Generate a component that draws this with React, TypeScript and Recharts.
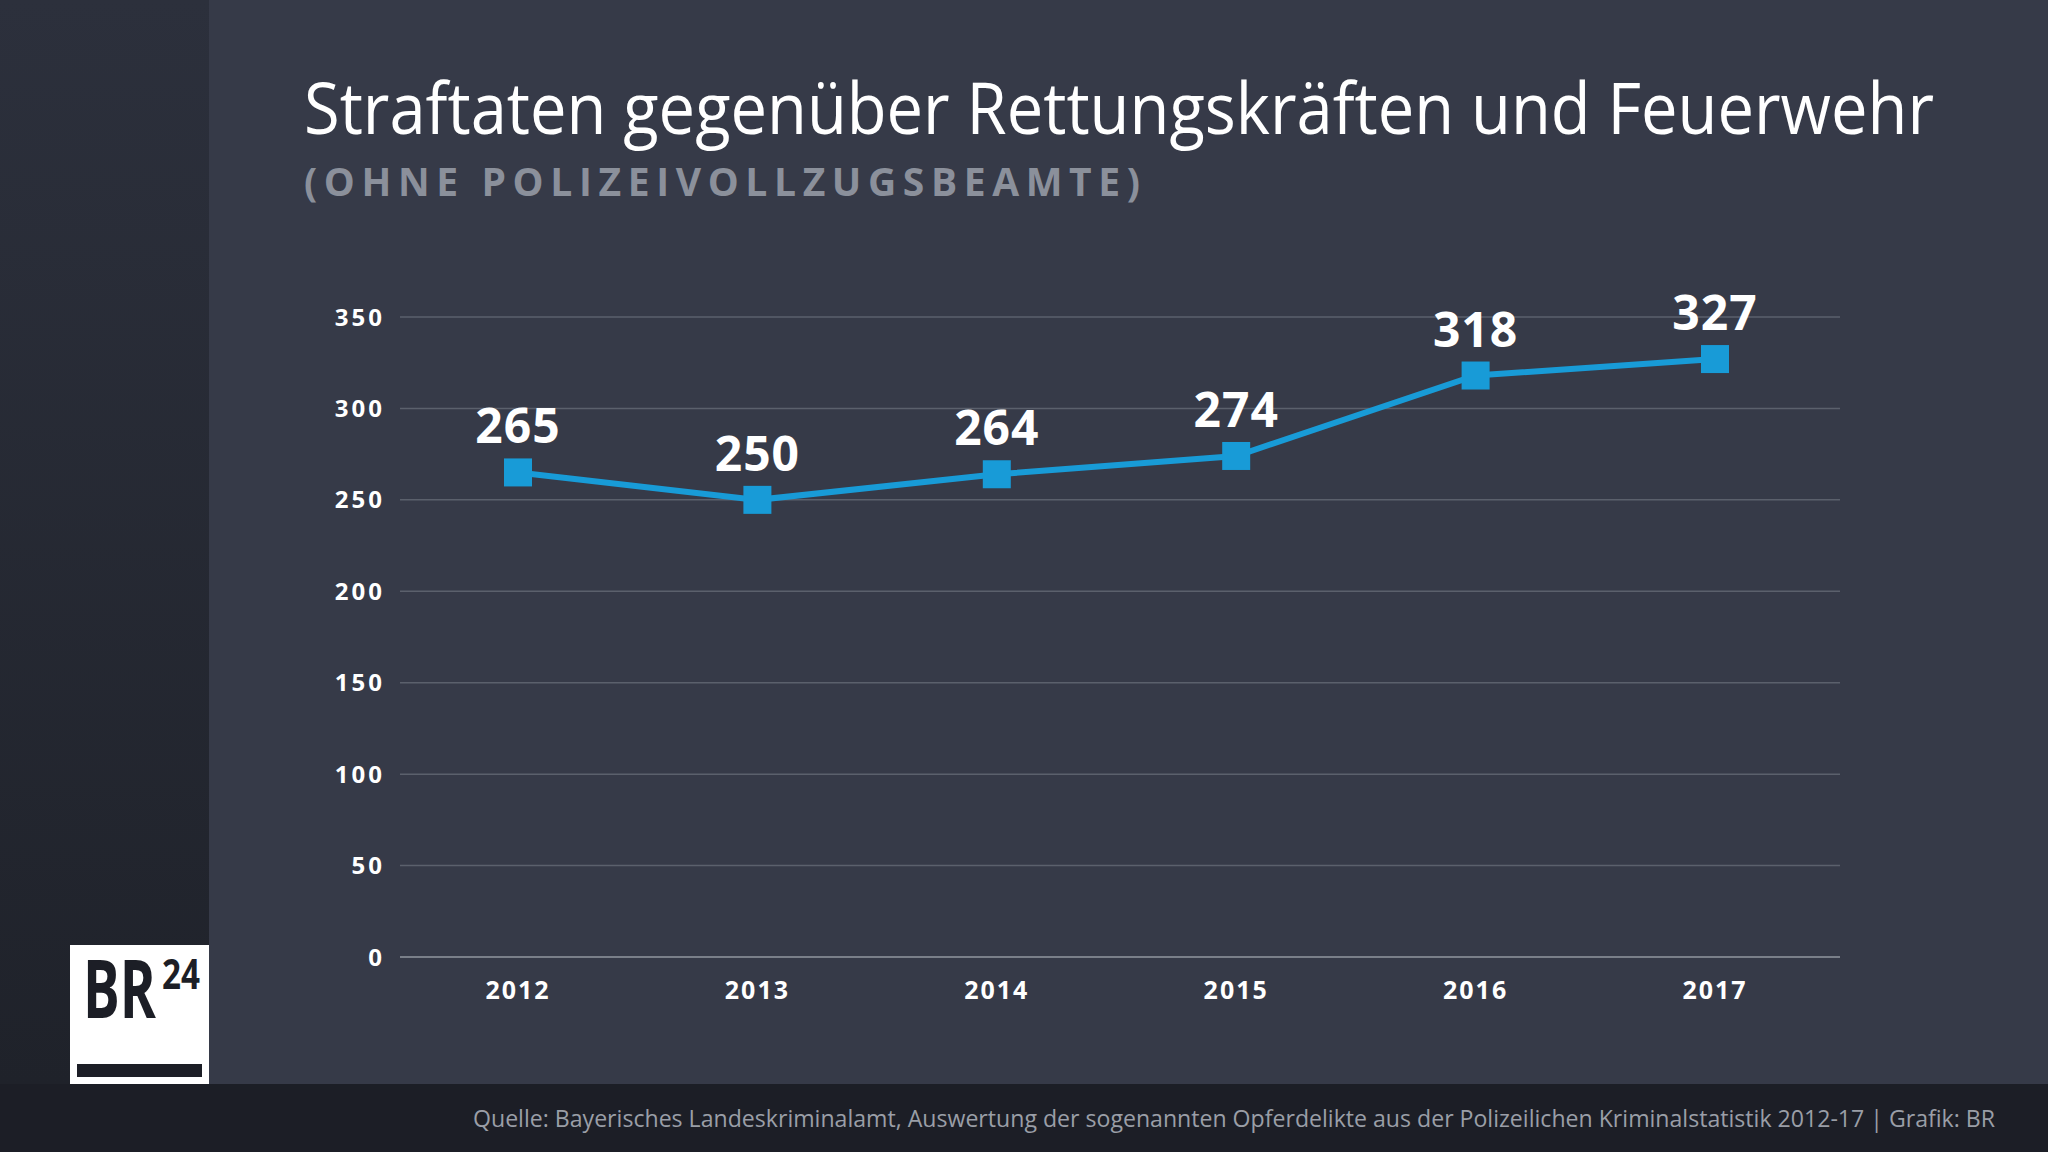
import { CartesianGrid, LabelList, Line, LineChart, XAxis, YAxis } from "recharts";

const years = ["2012", "2013", "2014", "2015", "2016", "2017"];
const offences = [265, 250, 264, 274, 318, 327];
const yTicks = [0, 50, 100, 150, 200, 250, 300, 350];

const data = years.map((year, i) => ({ year, value: offences[i] }));

const BLUE = "#189bd7";
const FONT = "'Open Sans', 'DejaVu Sans', sans-serif";

const SquareDot = (props: any) => {
  const { cx, cy, index } = props;
  return <rect key={`dot-${index}`} x={cx - 14} y={cy - 14} width={28} height={28} fill={BLUE} />;
};

const renderValue = (props: any) => {
  const { x, y, value, index } = props;
  return (
    <text
      key={`lbl-${index}`}
      x={x}
      y={y - 29}
      fill="#ffffff"
      textAnchor="middle"
      fontFamily={FONT}
      fontWeight={700}
      fontSize={48}
      letterSpacing={1}
    >
      {value}
    </text>
  );
};

const Background = () => (
  <svg width={2048} height={1152} style={{ position: "absolute", left: 0, top: 0 }}>
    <defs>
      <linearGradient id="side" x1="0" y1="0" x2="0" y2="1">
        <stop offset="0%" stopColor="#2c303c" />
        <stop offset="100%" stopColor="#1f222a" />
      </linearGradient>
    </defs>
    <rect x={0} y={0} width={2048} height={1152} fill="#1c1e26" />
    <rect x={0} y={0} width={209} height={1084} fill="url(#side)" />
    <rect x={209} y={0} width={1839} height={1084} fill="#363a48" />

    <text
      x={304}
      y={134}
      fill="#ffffff"
      fontFamily={FONT}
      fontSize={72}
      textLength={1630}
      lengthAdjust="spacingAndGlyphs"
    >
      Straftaten gegenüber Rettungskräften und Feuerwehr
    </text>
    <text
      x={304}
      y={196}
      fill="#8b909b"
      fontFamily={FONT}
      fontWeight={700}
      fontSize={39}
      textLength={836}
      lengthAdjust="spacing"
    >
      (OHNE POLIZEIVOLLZUGSBEAMTE)
    </text>

    <text
      x={473}
      y={1127}
      fill="#9a9ea7"
      fontFamily={FONT}
      fontSize={24}
      textLength={1522}
      lengthAdjust="spacingAndGlyphs"
    >
      Quelle: Bayerisches Landeskriminalamt, Auswertung der sogenannten Opferdelikte aus der Polizeilichen Kriminalstatistik 2012-17 | Grafik: BR
    </text>

    {/* BR24 logo */}
    <rect x={70} y={945} width={139} height={139} fill="#ffffff" />
    <text
      x={83}
      y={1018}
      fill="#1c1e26"
      fontFamily={FONT}
      fontWeight={700}
      fontSize={80}
      textLength={73}
      lengthAdjust="spacingAndGlyphs"
    >
      BR
    </text>
    <text
      x={162}
      y={989}
      fill="#1c1e26"
      fontFamily={FONT}
      fontWeight={700}
      fontSize={42}
      textLength={38}
      lengthAdjust="spacingAndGlyphs"
    >
      24
    </text>
    <rect x={77} y={1064} width={125} height={13} fill="#1c1e26" />
  </svg>
);

export default function App() {
  return (
    <div style={{ position: "absolute", left: 0, top: 0, width: 2048, height: 1152, overflow: "hidden" }}>
      <Background />
      <div style={{ position: "absolute", left: 0, top: 0 }}>
        <LineChart
          width={2048}
          height={1152}
          data={data}
          margin={{ top: 317, right: 208, bottom: 135, left: 300 }}
        >
          <CartesianGrid horizontal vertical={false} stroke="#5b606c" strokeWidth={1.5} />
          <XAxis
            dataKey="year"
            height={60}
            padding={{ left: 118, right: 125 }}
            tickLine={false}
            tickMargin={18}
            axisLine={{ stroke: "#7a7f89", strokeWidth: 2 }}
            tick={{ fill: "#ffffff", fontFamily: FONT, fontWeight: 700, fontSize: 25, letterSpacing: 2 }}
          />
          <YAxis
            width={100}
            domain={[0, 350]}
            ticks={yTicks}
            tickLine={false}
            axisLine={false}
            tickMargin={9}
            tick={{ fill: "#ffffff", fontFamily: FONT, fontWeight: 700, fontSize: 24, letterSpacing: 3 }}
          />
          <Line
            type="linear"
            dataKey="value"
            stroke={BLUE}
            strokeWidth={6}
            dot={<SquareDot />}
            activeDot={false}
            isAnimationActive={false}
          >
            <LabelList dataKey="value" content={renderValue} />
          </Line>
        </LineChart>
      </div>
    </div>
  );
}
